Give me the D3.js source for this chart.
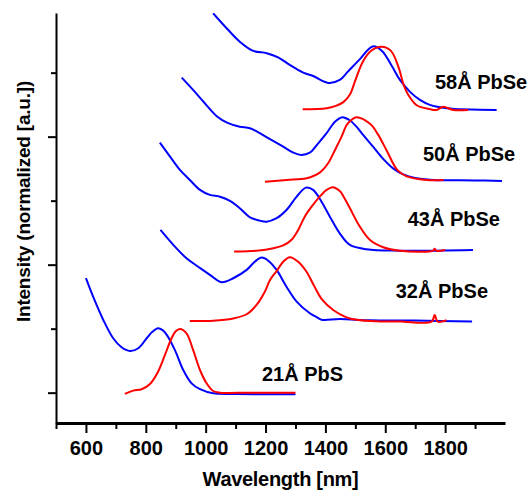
<!DOCTYPE html>
<html>
<head>
<meta charset="utf-8">
<script src="https://cdn.jsdelivr.net/npm/d3@7"></script>
<style>
  html, body { margin: 0; padding: 0; background: #fff; }
  svg { display: block; font-family: "Liberation Sans", Arial, Helvetica, sans-serif; }
</style>
</head>
<body>
<svg id="chart" width="530" height="491"></svg>
<script>
// Absorption (blue) and photoluminescence (red) spectra of PbS / PbSe nanocrystals,
// stacked with vertical offsets, in arbitrary normalized units.

const samples = ["21Å PbS", "32Å PbSe", "43Å PbSe", "50Å PbSe", "58Å PbSe"];

// --- 21 Å PbS ---
const absWl21 = [600, 624, 658, 691, 719, 747, 775, 803, 822, 841, 855, 870, 897, 925, 953, 981, 1025, 1100, 1200, 1300];
const absI21  = [0.894, 0.75, 0.568, 0.425, 0.355, 0.326, 0.347, 0.425, 0.475, 0.503, 0.49, 0.452, 0.334, 0.177, 0.073, 0.027, -0.005, -0.01, -0.012, -0.012];
const plWl21  = [730, 758, 786, 814, 841, 864, 886, 900, 914, 936, 958, 981, 1003, 1025, 1048, 1150, 1300];
const plI21   = [-0.01, 0.016, 0.027, 0.068, 0.164, 0.295, 0.425, 0.48, 0.498, 0.464, 0.334, 0.177, 0.073, 0.013, 0, 0, 0];

// --- 32 Å PbSe ---
const absWl32 = [849, 892, 936, 975, 1014, 1053, 1092, 1137, 1164, 1187, 1209, 1237, 1270, 1304, 1348, 1371, 1387, 1448, 1550, 1700, 1890];
const absI32  = [1.271, 1.154, 1.05, 0.984, 0.92, 0.863, 0.894, 0.959, 1.023, 1.055, 1.031, 0.959, 0.828, 0.711, 0.62, 0.59, 0.57, 0.575, 0.565, 0.563, 0.555];
const plWl32  = [947, 1025, 1092, 1137, 1170, 1198, 1215, 1237, 1259, 1281, 1309, 1337, 1362, 1390, 1426, 1482, 1571, 1650, 1755, 1765, 1775, 1805];
const plI32   = [0.56, 0.5625, 0.58, 0.6125, 0.685, 0.79, 0.88, 0.95, 1.023, 1.058, 1.023, 0.945, 0.835, 0.724, 0.646, 0.58, 0.558, 0.555, 0.555, 0.607, 0.555, 0.567];

// --- 43 Å PbSe ---
const absWl43 = [847, 881, 914, 947, 981, 1014, 1048, 1081, 1114, 1148, 1181, 1204, 1237, 1270, 1304, 1335, 1359, 1387, 1415, 1448, 1482, 1537, 1650, 1893];
const absI43  = [1.953, 1.844, 1.74, 1.662, 1.584, 1.545, 1.531, 1.498, 1.441, 1.37, 1.344, 1.336, 1.363, 1.427, 1.531, 1.602, 1.584, 1.492, 1.375, 1.245, 1.154, 1.12, 1.109, 1.115];
const plWl43  = [1095, 1170, 1226, 1259, 1287, 1309, 1331, 1354, 1381, 1404, 1424, 1448, 1460, 1482, 1515, 1549, 1593, 1649, 1760, 1765, 1770, 1800];
const plI43   = [1.102, 1.109, 1.128, 1.15, 1.195, 1.271, 1.375, 1.453, 1.531, 1.584, 1.605, 1.575, 1.535, 1.44, 1.297, 1.193, 1.136, 1.109, 1.109, 1.125, 1.109, 1.115];

// --- 50 Å PbSe ---
const absWl50 = [920, 958, 997, 1036, 1075, 1114, 1148, 1181, 1215, 1259, 1293, 1320, 1348, 1376, 1404, 1432, 1457, 1480, 1504, 1526, 1560, 1593, 1626, 1660, 1700, 1760, 1900, 1990];
const absI50  = [2.461, 2.365, 2.261, 2.162, 2.105, 2.078, 2.066, 2.027, 1.98, 1.922, 1.875, 1.857, 1.875, 1.948, 2.027, 2.117, 2.152, 2.13, 2.078, 2.013, 1.92, 1.826, 1.752, 1.705, 1.677, 1.662, 1.658, 1.654];
const plWl50  = [1198, 1270, 1337, 1381, 1409, 1432, 1454, 1471, 1487, 1504, 1549, 1575, 1605, 1640, 1671, 1738, 1795];
const plI50   = [1.648, 1.662, 1.675, 1.719, 1.792, 1.896, 2.0, 2.091, 2.13, 2.152, 2.1, 2.02, 1.89, 1.74, 1.69, 1.662, 1.662];

// --- 58 Å PbSe ---
const absWl58 = [1025, 1070, 1114, 1159, 1204, 1242, 1281, 1326, 1359, 1410, 1448, 1475, 1513, 1558, 1589, 1622, 1649, 1682, 1716, 1749, 1805, 1972];
const absI58  = [2.964, 2.847, 2.742, 2.67, 2.652, 2.62, 2.56, 2.5, 2.474, 2.42, 2.443, 2.508, 2.6, 2.705, 2.67, 2.552, 2.443, 2.352, 2.287, 2.248, 2.222, 2.209];
const plWl58  = [1324, 1404, 1435, 1460, 1482, 1500, 1526, 1555, 1588, 1619, 1644, 1662, 1677, 1705, 1749, 1772, 1793, 1827, 1877];
const plI58   = [2.214, 2.222, 2.24, 2.27, 2.33, 2.44, 2.59, 2.675, 2.703, 2.67, 2.545, 2.40, 2.326, 2.245, 2.215, 2.209, 2.233, 2.209, 2.209];

// Axis ticks
const xMajorTicks = [600, 800, 1000, 1200, 1400, 1600, 1800];
const xMinorTicks = [500, 700, 900, 1100, 1300, 1500, 1700, 1900];
const yMajorTicks = [0, 1, 2];
const yMinorTicks = [0.5, 1.5, 2.5];

const xTitle = "Wavelength [nm]";
const yTitle = "Intensity (normalized [a.u.])";

const absSeries = [[absWl21, absI21], [absWl32, absI32], [absWl43, absI43], [absWl50, absI50], [absWl58, absI58]];
const plSeries  = [[plWl21, plI21], [plWl32, plI32], [plWl43, plI43], [plWl50, plI50], [plWl58, plI58]];

// ---------------- drawing ----------------
const svg = d3.select("#chart");
const plotL = 56, plotR = 505, plotT = 13, plotB = 423;

const x = d3.scaleLinear().domain([500, 2000]).range([plotL, plotR]);
const y = d3.scaleLinear().domain([-0.237, 2.966]).range([plotB, plotT]);

svg.append("defs").append("clipPath").attr("id", "plot")
  .append("rect").attr("x", plotL).attr("y", plotT)
  .attr("width", plotR - plotL).attr("height", plotB - plotT);

const line = d3.line()
  .x(d => x(d[0]))
  .y(d => y(d[1]))
  .curve(d3.curveCatmullRom.alpha(0.5));

const toPts = ([wl, I]) => wl.map((w, i) => [w, I[i]]);

const curves = svg.append("g").attr("clip-path", "url(#plot)");
absSeries.forEach(s => {
  curves.append("path").attr("d", line(toPts(s)))
    .attr("fill", "none").attr("stroke", "#0000ff").attr("stroke-width", 2);
});
plSeries.forEach(s => {
  curves.append("path").attr("d", line(toPts(s)))
    .attr("fill", "none").attr("stroke", "#ff0000").attr("stroke-width", 2);
});

// Sample labels, anchored in data coordinates
const labelAnchor = [[1188, 0.095], [1635, 0.737], [1675, 1.302], [1726, 1.81], [1766, 2.372]];
svg.append("g").selectAll("text").data(samples).join("text")
  .attr("x", (d, i) => x(labelAnchor[i][0]))
  .attr("y", (d, i) => y(labelAnchor[i][1]))
  .attr("font-size", 20).attr("font-weight", "bold").attr("fill", "#000")
  .text(d => d);

// X axis
const gx = svg.append("g").attr("transform", `translate(0,${plotB})`);
gx.call(d3.axisBottom(x).tickValues(xMajorTicks).tickSize(10).tickSizeOuter(0).tickFormat(d3.format("d")));
gx.select(".domain").attr("stroke-width", 3);
gx.selectAll(".tick line").attr("stroke-width", 2);
gx.selectAll(".tick text").attr("y", 18).attr("font-size", 20).attr("font-weight", "bold")
  .attr("font-family", "Liberation Sans, Arial, sans-serif").attr("fill", "#000");
const gxm = svg.append("g").attr("transform", `translate(0,${plotB})`);
gxm.call(d3.axisBottom(x).tickValues(xMinorTicks).tickSize(6).tickSizeOuter(0).tickFormat(""));
gxm.select(".domain").remove();
gxm.selectAll(".tick line").attr("stroke-width", 2);

// Y axis
const gy = svg.append("g").attr("transform", `translate(${plotL},0)`);
gy.call(d3.axisLeft(y).tickValues(yMajorTicks).tickSize(8).tickSizeOuter(0).tickFormat(""));
gy.select(".domain").attr("stroke-width", 2);
gy.selectAll(".tick line").attr("stroke-width", 2);
const gym = svg.append("g").attr("transform", `translate(${plotL},0)`);
gym.call(d3.axisLeft(y).tickValues(yMinorTicks).tickSize(5).tickSizeOuter(0).tickFormat(""));
gym.select(".domain").remove();
gym.selectAll(".tick line").attr("stroke-width", 2);

// Axis titles
svg.append("text").attr("x", (plotL + plotR) / 2).attr("y", 486)
  .attr("text-anchor", "middle").attr("font-size", 20).attr("font-weight", "bold")
  .attr("letter-spacing", -0.3).text(xTitle);
svg.append("text").attr("transform", `translate(30,${(80 + 323) / 2}) rotate(-90)`)
  .attr("text-anchor", "middle").attr("font-size", 19).attr("font-weight", "bold")
  .attr("letter-spacing", -0.2).text(yTitle);
</script>
</body>
</html>
